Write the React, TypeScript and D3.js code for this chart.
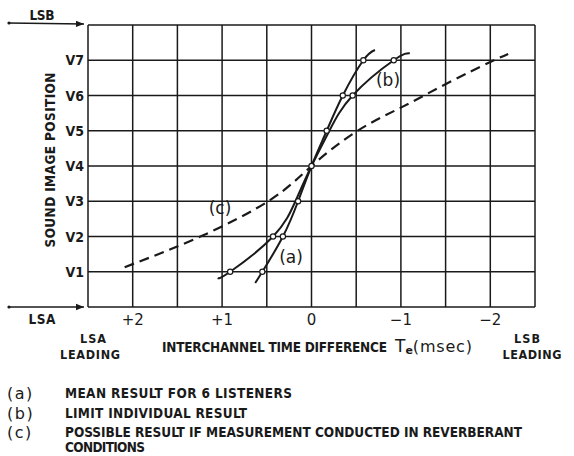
import React from 'react';
import * as d3 from 'd3';

// interchannel time difference (msec) at each image position V1..V7
const positions = [1, 2, 3, 4, 5, 6, 7];
const yTickLabels = ['V1', 'V2', 'V3', 'V4', 'V5', 'V6', 'V7'];
const xTicks = [2, 1, 0, -1, -2];
const xTickLabels = ['+2', '+1', '0', '\u22121', '\u22122'];

// curve (a): mean result for 6 listeners
const curveA_t = [0.63, 0.55, 0.32, 0.15, 0, -0.17, -0.35, -0.58, -0.71];
const curveA_v = [0.68, 1, 2, 3, 4, 5, 6, 7, 7.29];
const markerA_t = [0.55, 0.32, 0.15, 0, -0.17, -0.35, -0.58];

// curve (b): limit individual result
const curveB_t = [1.05, 0.91, 0.43, 0.18, 0, -0.2, -0.46, -0.92, -1.1];
const curveB_v = [0.82, 1, 2, 3, 4, 5, 6, 7, 7.2];
const markerB_t = [0.91, 0.43, -0.46, -0.92];
const markerB_v = [1, 2, 6, 7];

// curve (c): possible result in reverberant conditions
const curveC_t = [2.09, 1.25, 0.46, 0, -0.51, -1.01, -1.52, -2.0, -2.2];
const curveC_v = [1.13, 1.99, 3.04, 4.0, 4.99, 5.67, 6.35, 6.95, 7.18];

const legendKeys = ['(a)', '(b)', '(c)'];
const legendTexts = [
  'MEAN RESULT FOR 6 LISTENERS',
  'LIMIT INDIVIDUAL RESULT',
  'POSSIBLE RESULT IF MEASUREMENT CONDUCTED IN REVERBERANT',
];
const legendWidths = [227, 182, 457];

const ink = '#1a1a1a';
const font = '"DejaVu Sans Condensed", "DejaVu Sans", sans-serif';
const plain = '"DejaVu Sans", sans-serif';

const App = () => {
  const width = 574;
  const height = 456;
  const x = d3.scaleLinear().domain([2.5, -2.5]).range([88, 535]);
  const y = d3.scaleLinear().domain([0, 8]).range([307, 25]);

  const line = d3
    .line<[number, number]>()
    .x((d) => x(d[0]))
    .y((d) => y(d[1]))
    .curve(d3.curveNatural);

  const zip = (a: number[], b: number[]) => a.map((t, i) => [t, b[i]] as [number, number]);

  const xGrid = d3.range(-2.5, 2.5001, 0.5);
  const yGrid = d3.range(0, 8.001, 1);

  const markersA = markerA_t.map((t, i) => [t, positions[i]]);
  const markersB = markerB_t.map((t, i) => [t, markerB_v[i]]);

  return (
    <svg
      width={width}
      height={height}
      style={{ position: 'absolute', left: 0, top: 0, background: '#fff' }}
      fontFamily={font}
    >
      <defs>
        <marker id="arr" viewBox="0 0 10 10" refX="10" refY="5" markerWidth="9" markerHeight="8" orient="auto" markerUnits="userSpaceOnUse">
          <path d="M0,1 L10,5 L0,9 Z" fill={ink} />
        </marker>
      </defs>

      {/* grid */}
      <g stroke={ink} strokeWidth={1.5}>
        {xGrid.map((t) => (
          <line key={`gx${t}`} x1={x(t)} x2={x(t)} y1={y(0)} y2={y(8)} />
        ))}
        {yGrid.map((v) => (
          <line key={`gy${v}`} x1={x(2.5)} x2={x(-2.5)} y1={y(v)} y2={y(v)} />
        ))}
      </g>

      {/* curves */}
      <path d={line(zip(curveC_t, curveC_v)) || ''} fill="none" stroke={ink} strokeWidth={2.2} strokeDasharray="10 6" />
      <path d={line(zip(curveA_t, curveA_v)) || ''} fill="none" stroke={ink} strokeWidth={2} />
      <path d={line(zip(curveB_t, curveB_v)) || ''} fill="none" stroke={ink} strokeWidth={2} />
      {[...markersA, ...markersB].map((d, i) => (
        <circle key={`m${i}`} cx={x(d[0])} cy={y(d[1])} r={2.6} fill="#fff" stroke={ink} strokeWidth={1.2} />
      ))}

      {/* curve labels */}
      <g fontSize={17} fill={ink} textAnchor="middle" fontFamily={plain}>
        <text x={291} y={263}>(a)</text>
        <text x={388} y={86}>(b)</text>
        <text x={220} y={214}>(c)</text>
      </g>

      {/* y ticks */}
      <g fontSize={14} fontWeight="bold" fill={ink} textAnchor="end">
        {positions.map((v, i) => (
          <text key={`yt${v}`} x={84} y={y(v) + 5}>{yTickLabels[i]}</text>
        ))}
      </g>
      <text
        transform={`translate(55,160) rotate(-90)`}
        textAnchor="middle"
        fontSize={13.5}
        fontWeight="bold"
        textLength={175}
        lengthAdjust="spacing"
        fill={ink}
      >
        SOUND IMAGE POSITION
      </text>

      {/* x ticks */}
      <g fontSize={15} fill={ink} textAnchor="middle" fontFamily={plain}>
        {xTicks.map((t, i) => (
          <text key={`xt${t}`} x={x(t)} y={325}>{xTickLabels[i]}</text>
        ))}
      </g>

      {/* side arrows */}
      <line x1={8} x2={84} y1={23} y2={24} stroke={ink} strokeWidth={1.5} markerEnd="url(#arr)" />
      <circle cx={9} cy={23} r={1.6} fill={ink} />
      <line x1={8} x2={84} y1={307} y2={307} stroke={ink} strokeWidth={1.5} markerEnd="url(#arr)" />
      <circle cx={9} cy={307} r={1.6} fill={ink} />
      <g fontSize={13.5} fontWeight="bold" fill={ink} textAnchor="middle">
        <text x={42} y={20} textLength={25} lengthAdjust="spacing">LSB</text>
        <text x={42} y={324} textLength={27} lengthAdjust="spacing">LSA</text>
      </g>
      <g fontSize={12.5} fontWeight="bold" fill={ink} textAnchor="middle">
        <text x={93} y={343} textLength={26} lengthAdjust="spacing">LSA</text>
        <text x={90} y={359} textLength={60} lengthAdjust="spacing">LEADING</text>
        <text x={527} y={343} textLength={26} lengthAdjust="spacing">LSB</text>
        <text x={532} y={359} textLength={59} lengthAdjust="spacing">LEADING</text>
      </g>

      {/* x axis title */}
      <text x={162} y={352} fontSize={13.5} fontWeight="bold" fill={ink} textLength={225} lengthAdjust="spacing">
        INTERCHANNEL TIME DIFFERENCE
      </text>
      <text x={395} y={352} fill={ink} fontFamily={plain}>
        <tspan fontSize={17}>T</tspan>
        <tspan fontSize={11} dy={2} fontWeight="bold">e</tspan>
        <tspan fontSize={16} dy={-2} letterSpacing={0.8}>(msec)</tspan>
      </text>

      {/* legend */}
      <g fill={ink}>
        {legendKeys.map((k, i) => (
          <g key={k}>
            <text x={7} y={[399, 419, 438][i]} fontSize={16} fontFamily={plain} letterSpacing={1.5}>{k}</text>
            <text x={65} y={[398, 418, 437][i]} fontSize={13.5} fontWeight="bold" textLength={legendWidths[i]} lengthAdjust="spacing">
              {legendTexts[i]}
            </text>
          </g>
        ))}
        <text x={65} y={452} fontSize={13.5} fontWeight="bold" textLength={80} lengthAdjust="spacing">CONDITIONS</text>
      </g>
    </svg>
  );
};

export default App;
